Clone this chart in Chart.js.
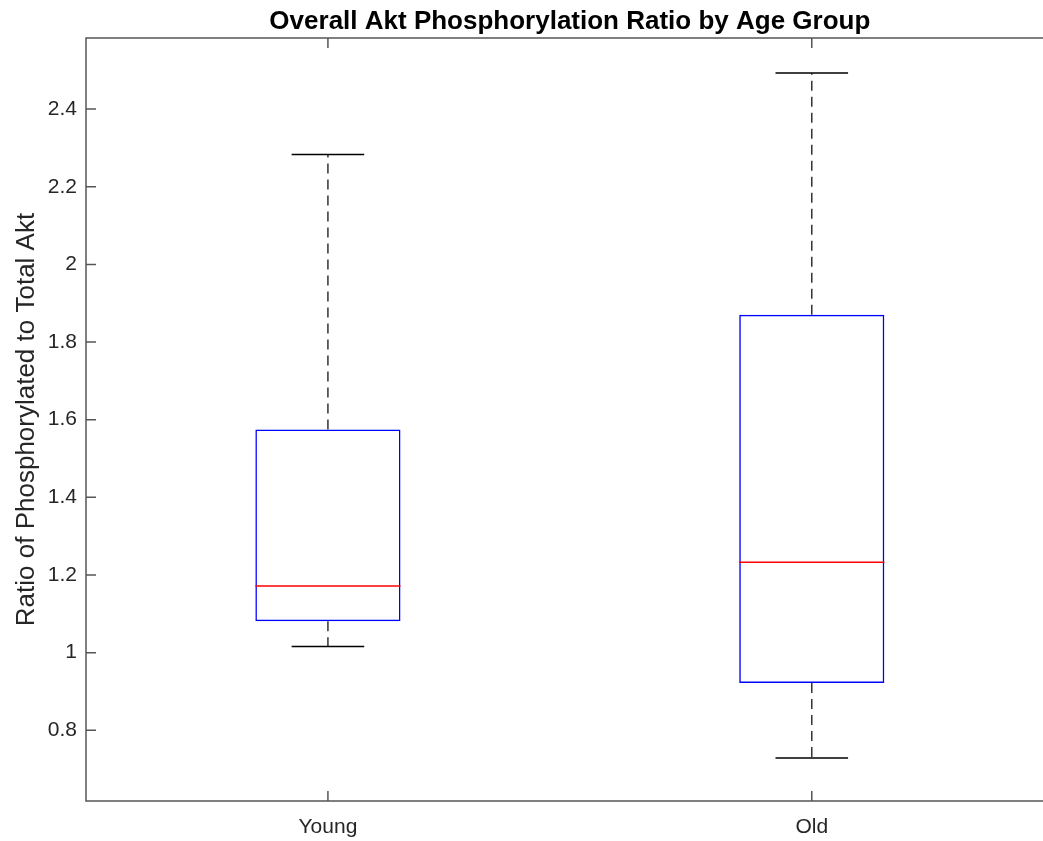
<!DOCTYPE html>
<html>
<head>
<meta charset="utf-8">
<script src="https://cdn.jsdelivr.net/npm/chart.js@4.4.1/dist/chart.umd.min.js"></script>
<style>
  html, body { margin: 0; padding: 0; background: #fff; overflow: hidden; }
  #wrap { position: absolute; left: 0; top: 0; width: 1070px; height: 841px; }
</style>
</head>
<body>
<div id="wrap"><canvas id="box1"></canvas></div>
<script>
// box plot values
const groups = ['Young', 'Old'];
const whiskerLow = [1.016, 0.729];
const q1 = [1.081, 0.922];
const medians = [1.172, 1.233];
const q3 = [1.575, 1.870];
const whiskerHigh = [2.283, 2.493];
const yTicks = [0.8, 1, 1.2, 1.4, 1.6, 1.8, 2, 2.2, 2.4];

const axisColor = '#555555';
const textColor = '#262626';

// frame round the plot area with inward ticks (top ticks mirror the bottom ones)
const framePlugin = {
  id: 'frame',
  afterDraw(chart) {
    const { ctx, chartArea: a, scales } = chart;
    ctx.save();
    ctx.strokeStyle = axisColor;
    ctx.lineWidth = 1.5;
    ctx.strokeRect(a.left, a.top, a.right - a.left, a.bottom - a.top);
    ctx.beginPath();
    scales.y.ticks.forEach((t, i) => {
      const y = scales.y.getPixelForTick(i);
      ctx.moveTo(a.left, y);
      ctx.lineTo(a.left + 10, y);
    });
    scales.x.ticks.forEach((t, i) => {
      const x = scales.x.getPixelForTick(i);
      ctx.moveTo(x, a.bottom);
      ctx.lineTo(x, a.bottom - 10);
      ctx.moveTo(x, a.top);
      ctx.lineTo(x, a.top + 10);
    });
    ctx.stroke();
    ctx.restore();
  }
};

// whiskers, caps and median lines
const whiskerPlugin = {
  id: 'whiskers',
  afterDatasetsDraw(chart) {
    const { ctx, scales } = chart;
    const bars = chart.getDatasetMeta(0).data;
    ctx.save();
    bars.forEach((bar, i) => {
      const x = bar.x;
      const half = bar.width / 2;
      const yLo = scales.y.getPixelForValue(whiskerLow[i]);
      const yHi = scales.y.getPixelForValue(whiskerHigh[i]);
      const yQ1 = scales.y.getPixelForValue(q1[i]);
      const yQ3 = scales.y.getPixelForValue(q3[i]);
      const yMed = scales.y.getPixelForValue(medians[i]);

      ctx.strokeStyle = '#333333';
      ctx.lineWidth = 1.5;
      ctx.setLineDash([10, 6]);
      ctx.beginPath();
      ctx.moveTo(x, yQ3);
      ctx.lineTo(x, yHi);
      ctx.moveTo(x, yQ1);
      ctx.lineTo(x, yLo);
      ctx.stroke();

      ctx.setLineDash([]);
      ctx.strokeStyle = '#000000';
      ctx.beginPath();
      ctx.moveTo(x - half / 2, yHi);
      ctx.lineTo(x + half / 2, yHi);
      ctx.moveTo(x - half / 2, yLo);
      ctx.lineTo(x + half / 2, yLo);
      ctx.stroke();

      ctx.strokeStyle = '#ff0000';
      ctx.beginPath();
      ctx.moveTo(x - half, yMed);
      ctx.lineTo(x + half, yMed);
      ctx.stroke();
    });
    ctx.restore();
  }
};

const ctx1 = document.getElementById('box1');
new Chart(ctx1, {
  type: 'bar',
  data: {
    labels: groups,
    datasets: [{
      label: 'IQR',
      data: groups.map((g, i) => [q1[i], q3[i]]),
      backgroundColor: 'rgba(0,0,0,0)',
      borderColor: '#0000ff',
      borderWidth: 1.5,
      borderSkipped: false,
      barPercentage: 0.3,
      categoryPercentage: 1
    }]
  },
  options: {
    responsive: true,
    maintainAspectRatio: false,
    animation: false,
    layout: { padding: { left: 0, right: 16.3, top: 0, bottom: 0 } },
    plugins: {
      legend: { display: false },
      tooltip: { enabled: false },
      title: {
        display: true,
        fullSize: false,
        text: 'Overall Akt Phosphorylation Ratio by Age Group',
        color: '#000',
        font: { family: 'Liberation Sans', size: 26, weight: 'bold' },
        padding: { top: 6, bottom: 0.8 }
      }
    },
    scales: {
      x: {
        offset: true,
        grid: { display: false, drawTicks: false },
        border: { display: false },
        ticks: {
          color: textColor,
          padding: 14,
          font: { family: 'Liberation Sans', size: 21 }
        },
        afterFit(scale) { scale.height = 40; }
      },
      y: {
        min: 0.618,
        max: 2.583,
        grid: { display: false, drawTicks: false },
        border: { display: false },
        afterBuildTicks(scale) { scale.ticks = yTicks.map(v => ({ value: v })); },
        ticks: {
          color: textColor,
          padding: 9,
          font: { family: 'Liberation Sans', size: 21 },
          callback: v => String(Number(v.toFixed(1)))
        },
        title: {
          display: true,
          text: 'Ratio of Phosphorylated to Total Akt',
          color: textColor,
          font: { family: 'Liberation Sans', size: 26 },
          padding: { top: 11, bottom: 0 }
        },
        afterFit(scale) { scale.width = 86; }
      }
    }
  },
  plugins: [framePlugin, whiskerPlugin]
});
</script>
</body>
</html>
